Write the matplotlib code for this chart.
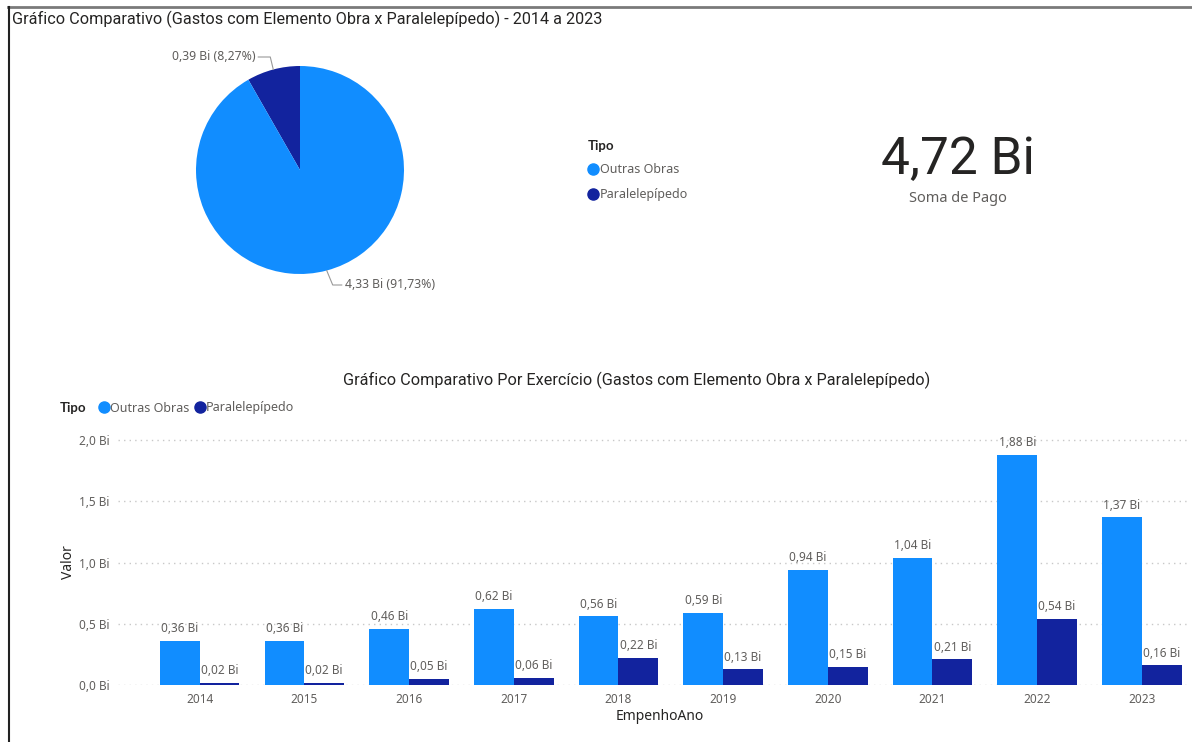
import numpy as np
import matplotlib.pyplot as plt
from matplotlib.lines import Line2D

# --- dados ---
tipos = ["Outras Obras", "Paralelepípedo"]
cores = ["#118DFF", "#12239E"]

pie_bi = [4.33, 0.39]
pie_pct = [91.73, 8.27]
total_bi = 4.72

anos = ["2014", "2015", "2016", "2017", "2018", "2019", "2020", "2021", "2022", "2023"]
outras = [0.36, 0.36, 0.46, 0.62, 0.56, 0.59, 0.94, 1.04, 1.88, 1.37]
paralelepipedo = [0.02, 0.02, 0.05, 0.06, 0.22, 0.13, 0.15, 0.21, 0.54, 0.16]
y_ticks = [0.0, 0.5, 1.0, 1.5, 2.0]

TITLE_FONT = "Roboto"
LABEL_FONT = "Noto Sans"
BOLD_FONT = ["Lato", "Open Sans", "DejaVu Sans"]
W, H = 1192, 742


def bi(v, nd=2):
    return f"{v:.{nd}f}".replace(".", ",") + " Bi"


def fx(px):
    return px / W


def fy(py):
    return 1 - py / H


fig = plt.figure(figsize=(W / 100, H / 100), dpi=100)
fig.patch.set_facecolor("white")

# moldura
fig.add_artist(Line2D([fx(8), 1], [fy(7), fy(7)], color="#7a7a7a", lw=2))
fig.add_artist(Line2D([fx(9), fx(9)], [fy(7), 0], color="#222222", lw=1.5))

fig.text(fx(12), fy(19), "Gráfico Comparativo (Gastos com Elemento Obra x Paralelepípedo) - 2014 a 2023",
         family=TITLE_FONT, fontsize=11.7, color="#252423", va="center", ha="left")

# --- pizza ---
pax = fig.add_axes([fx(150), fy(300), fx(300) - fx(0), fy(40) - fy(300)])
r_px = 104
pax.pie(pie_pct[::-1], colors=cores[::-1], startangle=90, counterclock=True, radius=1)
pax.set_xlim(-150 / r_px, 150 / r_px)
pax.set_ylim(-130 / r_px, 130 / r_px)
pax.set_aspect("auto")

# rótulos com linha guia
ang0 = 90 + 360 * pie_pct[1] / 100 / 2
ang1 = 90 + 360 * pie_pct[1] / 100 + 360 * pie_pct[0] / 100 / 2
a0, a1 = np.deg2rad(ang0), np.deg2rad(ang1)
p0 = (np.cos(a0), np.sin(a0))
p1 = (np.cos(a1), np.sin(a1))
y_top = 113 / r_px
pax.plot([p0[0], p0[0] - 3 / r_px, p0[0] - 15 / r_px], [p0[1], y_top, y_top], color="#999999", lw=0.8)
pax.text(p0[0] - 18 / r_px, y_top, f"{bi(pie_bi[1])} ({pie_pct[1]:.2f}%)".replace(".", ","),
         ha="right", va="center", fontsize=8.8, color="#605E5C", family=LABEL_FONT)
y_bot = -115 / r_px
pax.plot([p1[0], p1[0] + 6 / r_px, p1[0] + 15 / r_px], [p1[1], y_bot, y_bot], color="#999999", lw=0.8)
pax.text(p1[0] + 18 / r_px, y_bot, f"{bi(pie_bi[0])} ({pie_pct[0]:.2f}%)".replace(".", ","),
         ha="left", va="center", fontsize=8.8, color="#605E5C", family=LABEL_FONT)

# legenda da pizza
handles = [Line2D([], [], marker="o", ls="", color=c, markersize=8) for c in cores]
fig.text(fx(588), fy(146), "Tipo", family=BOLD_FONT, fontsize=9.5, fontweight="bold",
         color="#252423", ha="left", va="center")
leg1 = fig.legend(handles, tipos, loc="upper left", bbox_to_anchor=(fx(582), fy(158)),
                  frameon=False, handletextpad=0.0,
                  labelspacing=0.95, handlelength=1.0, borderaxespad=0,
                  prop={"family": LABEL_FONT, "size": 9})
for t in leg1.get_texts():
    t.set_color("#605E5C")

# cartão
fig.text(fx(958), fy(160), bi(total_bi), family=TITLE_FONT, fontsize=37, color="#252423",
         ha="center", va="center")
fig.text(fx(958), fy(199), "Soma de Pago", family=LABEL_FONT, fontsize=10.5, color="#605E5C",
         ha="center", va="center")

# --- barras ---
fig.text(fx(637), fy(380), "Gráfico Comparativo Por Exercício (Gastos com Elemento Obra x Paralelepípedo)",
         family=TITLE_FONT, fontsize=11.7, color="#252423", ha="center", va="center")

y0_px, y2_px = 685, 440
ppu = (y0_px - y2_px) / 2.0
ytop = 2.05
ax = fig.add_axes([fx(118), fy(y0_px), fx(1190) - fx(118), ytop * ppu / H])
x = np.arange(len(anos))
w = 0.38
b1 = ax.bar(x - w / 2, outras, w, color=cores[0], label=tipos[0])
b2 = ax.bar(x + w / 2, paralelepipedo, w, color=cores[1], label=tipos[1])
for bars, vals in ((b1, outras), (b2, paralelepipedo)):
    for rect, v in zip(bars, vals):
        ax.annotate(bi(v), (rect.get_x() + rect.get_width() / 2, v), xytext=(0, 4),
                    textcoords="offset points", ha="center", va="bottom",
                    fontsize=8.5, color="#605E5C", family=LABEL_FONT)

ax.set_xlim(-0.78, 9.46)
ax.set_ylim(0, ytop)
ax.set_yticks(y_ticks)
ax.set_yticklabels([bi(v, 1) for v in y_ticks])
ax.set_xticks(x)
ax.set_xticklabels(anos)
ax.tick_params(length=0, labelsize=8.5, labelcolor="#605E5C", pad=6)
for lbl in ax.get_xticklabels() + ax.get_yticklabels():
    lbl.set_family(LABEL_FONT)
ax.grid(axis="y", ls=(0, (1, 3)), color="#c8c8c8", lw=1)
ax.set_axisbelow(True)
for s in ax.spines.values():
    s.set_visible(False)

fig.text(fx(68), fy(562), "Valor", rotation=90, family=LABEL_FONT, fontsize=10,
         color="#252423", ha="center", va="center")
fig.text(fx(660), fy(716), "EmpenhoAno", family=LABEL_FONT, fontsize=10,
         color="#252423", ha="center", va="center")

# legenda das barras
fig.text(fx(60), fy(408), "Tipo", family=BOLD_FONT, fontsize=9.5, fontweight="bold",
         color="#252423", ha="left", va="center")
leg2 = fig.legend(handles, tipos, loc="center left", bbox_to_anchor=(fx(93), fy(408)),
                  frameon=False, ncol=2, handletextpad=0.0, columnspacing=0.3,
                  handlelength=1.0, borderaxespad=0, prop={"family": LABEL_FONT, "size": 9})
for t in leg2.get_texts():
    t.set_color("#605E5C")

fig.savefig("out.png", dpi=100)
